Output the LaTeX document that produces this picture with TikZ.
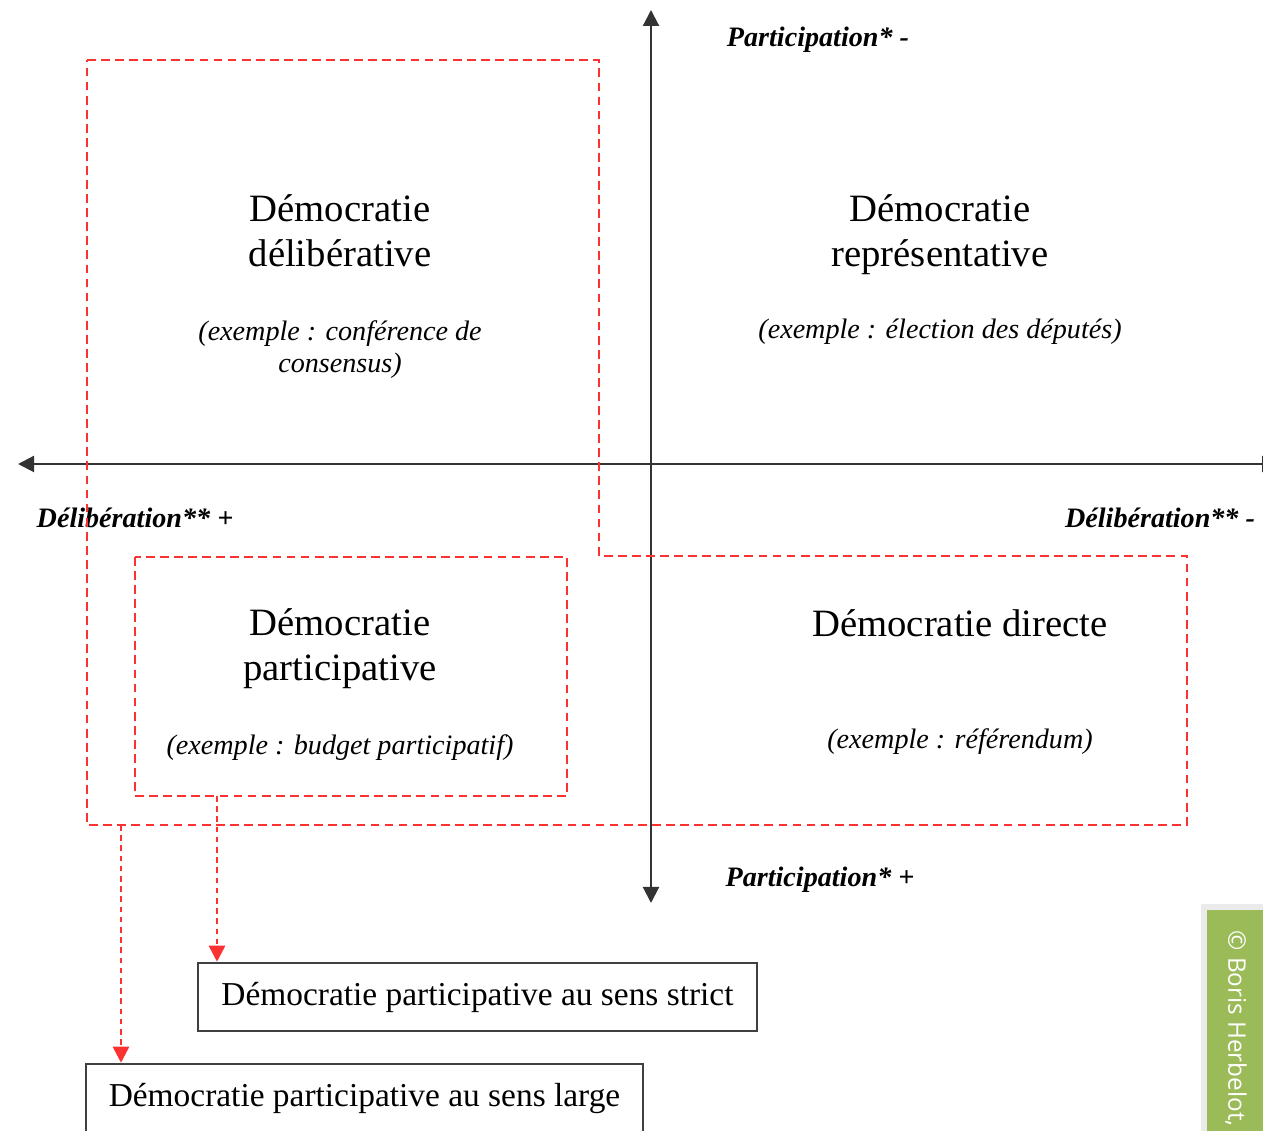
\documentclass[tikz,border=0pt]{standalone}
\usepackage{fontspec}
\setmainfont{Liberation Serif}
\newfontfamily\credfont{Open Sans}
\usetikzlibrary{positioning,arrows.meta}
\definecolor{dashred}{RGB}{250,50,50}
\definecolor{credgreen}{RGB}{155,187,89}

\begin{document}
\begin{tikzpicture}[x=0.01cm,y=-0.01cm,>={Triangle[length=1.6mm,width=1.6mm]},
        axis/.style = {draw=black!80, line width=0.6pt},
        zone/.style = {draw=dashred, line width=0.75pt, dash pattern=on 2.5pt off 1.5pt},
        link/.style = {draw=dashred, line width=0.75pt, dash pattern=on 1.6pt off 1.3pt, ->},
        title/.style = {align=center, inner sep=0pt, font=\fontsize{11}{12.8}\selectfont},
        example/.style = {align=center, inner sep=0pt, font=\fontsize{8}{9.1}\selectfont\itshape},
        pole/.style = {inner sep=0pt, font=\fontsize{8}{9}\selectfont\bfseries\itshape},
        sens/.style = {draw=black!75, line width=0.7pt, minimum height=0.68cm, font=\fontsize{9.5}{11}\selectfont}]
        \useasboundingbox (0,0) rectangle (1263,1131);
        \coordinate (left) at (18,464);
        \coordinate (right) at (1278,464);
        \coordinate (top) at (651,10);
        \coordinate (bottom) at (651,903);
        \draw[axis,<->] (left) -- (right);
        \draw[axis,<->] (top) -- (bottom);
        \node[pole] (pminus) at (818,40) {Participation* -};
        \node[pole] (pplus) at (820,880) {Participation* +};
        \node[pole] (dplus) at (135,518) {Délibération** +};
        \node[pole] (dminus) at (1160,518) {Délibération** -};
        \draw[zone] (87,60) -- (599,60) -- (599,556) -- (1187,556) -- (1187,825) -- (87,825) -- cycle;
        \draw[zone] (135,557) rectangle (567,796);
        \node[title] (delib) at (340,231) {Démocratie\\délibérative};
        \node[example] (delibex) [below of=delib, node distance=1.19cm] {(exemple : conférence de\\consensus)};
        \node[title] (repr) at (940,235) {Démocratie\\représentative};
        \node[example] (reprex) [below of=repr, node distance=0.97cm] {(exemple : élection des députés)};
        \node[title] (partic) at (340,649) {Démocratie\\participative};
        \node[example] (particex) [below of=partic, node distance=0.99cm] {(exemple : budget participatif)};
        \node[title] (direct) at (960,623) {Démocratie directe};
        \node[example] (directex) [below of=direct, node distance=1.19cm] {(exemple : référendum)};
        \node[sens, minimum width=5.59cm] (strict) at (477.5,997) {Démocratie participative au sens strict};
        \node[sens, minimum width=5.57cm] (large) at (364.5,1098) {Démocratie participative au sens large};
        \coordinate (strictfoot) at (217,796);
        \coordinate (largefoot) at (121,825);
        \draw[link] (strictfoot) -- (strictfoot |- strict.north);
        \draw[link] (largefoot) -- (largefoot |- large.north);
        \fill[black!8] (1201,904) rectangle (1270,1140);
        \fill[credgreen] (1207,910) rectangle (1270,1140);
        \node[rotate=-90, anchor=west, inner sep=0pt, text=white, font=\credfont\fontsize{6.9}{8}\selectfont] (credit) at (1236,930) {© Boris Herbelot,};
\end{tikzpicture}
\end{document}
